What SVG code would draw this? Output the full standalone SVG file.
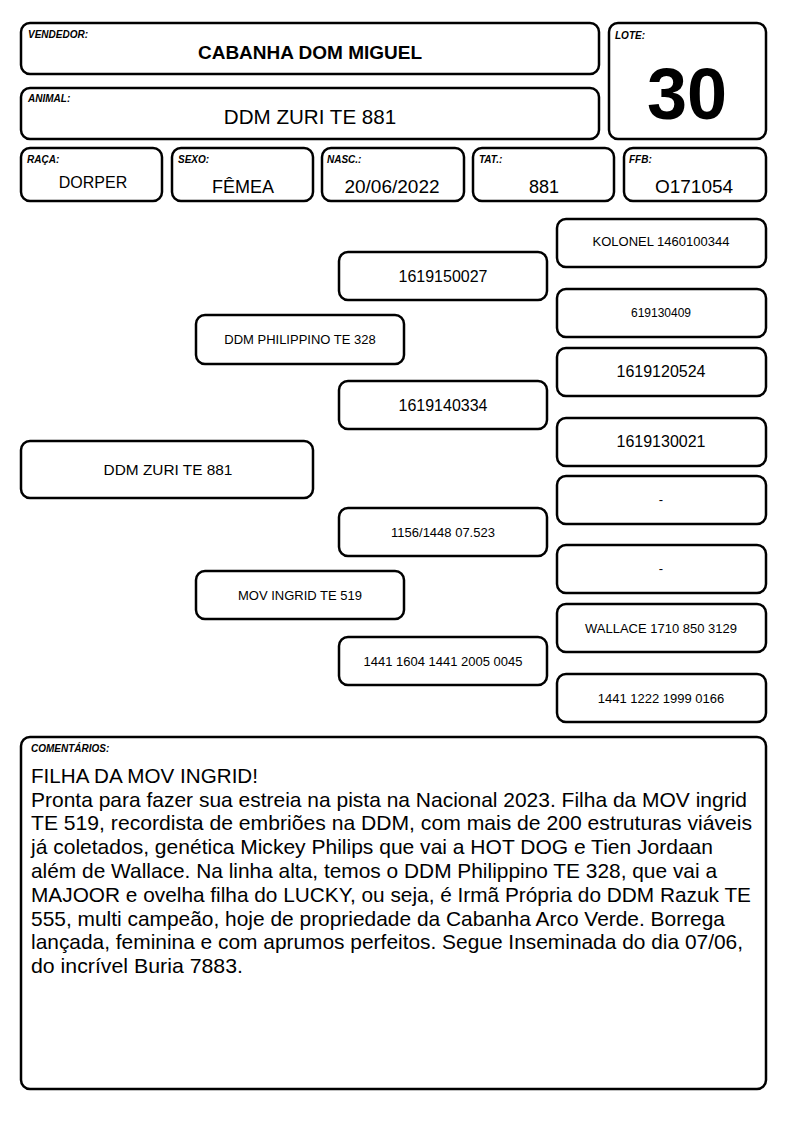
<svg xmlns="http://www.w3.org/2000/svg" width="794" height="1123" viewBox="0 0 794 1123">
<style>
.box{fill:#fff;stroke:#000;stroke-width:2.5}
.lbl{font-family:"Liberation Sans",Arial,sans-serif;font-size:10px;font-weight:bold;font-style:italic;fill:#000}
.t{font-family:"Liberation Sans",Arial,sans-serif;fill:#000;text-anchor:middle}
.c{font-family:"Liberation Sans",Arial,sans-serif;fill:#000;font-size:21px}
</style>
<rect width="794" height="1123" fill="#fff"/>
<g id="vendedor"><rect class="box" x="21" y="23" width="578" height="51" rx="9"/><text class="lbl" x="28" y="38">VENDEDOR:</text><text class="t" x="310" y="59" font-size="19" font-weight="bold">CABANHA DOM MIGUEL</text></g>
<g id="animal"><rect class="box" x="21" y="88" width="578" height="51" rx="9"/><text class="lbl" x="28" y="102">ANIMAL:</text><text class="t" x="310" y="124" font-size="20.6">DDM ZURI TE 881</text></g>
<g id="lote"><rect class="box" x="609" y="23" width="157" height="116" rx="9"/><text class="lbl" x="615" y="39">LOTE:</text><text class="t" x="687" y="119" font-size="72" font-weight="bold">30</text></g>
<g id="raca"><rect class="box" x="21" y="148" width="141" height="53" rx="9"/><text class="lbl" x="27" y="163">RAÇA:</text><text class="t" x="93" y="188" font-size="16">DORPER</text></g>
<g id="sexo"><rect class="box" x="172" y="148" width="141" height="53" rx="9"/><text class="lbl" x="178" y="163">SEXO:</text><text class="t" x="243" y="193" font-size="18">FÊMEA</text></g>
<g id="nasc"><rect class="box" x="322" y="148" width="142" height="53" rx="9"/><text class="lbl" x="327" y="163">NASC.:</text><text class="t" x="392" y="193" font-size="19">20/06/2022</text></g>
<g id="tat"><rect class="box" x="473" y="148" width="141" height="53" rx="9"/><text class="lbl" x="479" y="163">TAT.:</text><text class="t" x="544" y="193" font-size="18">881</text></g>
<g id="ffb"><rect class="box" x="624" y="148" width="142" height="53" rx="9"/><text class="lbl" x="629" y="163">FFB:</text><text class="t" x="694" y="193" font-size="19">O171054</text></g>
<g id="connectors"></g>
<g id="p0"><rect class="box" x="21" y="441" width="292" height="57" rx="9"/><text class="t" x="168" y="475" font-size="15.4">DDM ZURI TE 881</text></g>
<g id="p1"><rect class="box" x="196" y="315" width="208" height="49" rx="9"/><text class="t" x="300" y="344" font-size="13">DDM PHILIPPINO TE 328</text></g>
<g id="p2"><rect class="box" x="196" y="571" width="208" height="48" rx="9"/><text class="t" x="300" y="600" font-size="13">MOV INGRID TE 519</text></g>
<g id="p3"><rect class="box" x="339" y="252" width="208" height="48" rx="9"/><text class="t" x="443" y="282" font-size="16">1619150027</text></g>
<g id="p4"><rect class="box" x="339" y="381" width="208" height="48" rx="9"/><text class="t" x="443" y="411" font-size="16">1619140334</text></g>
<g id="p5"><rect class="box" x="339" y="508" width="208" height="48" rx="9"/><text class="t" x="443" y="537" font-size="13">1156/1448 07.523</text></g>
<g id="p6"><rect class="box" x="339" y="637" width="208" height="48" rx="9"/><text class="t" x="443" y="666" font-size="13">1441 1604 1441 2005 0045</text></g>
<g id="p7"><rect class="box" x="557" y="219" width="209" height="48" rx="9"/><text class="t" x="661" y="246" font-size="13">KOLONEL 1460100344</text></g>
<g id="p8"><rect class="box" x="557" y="289" width="209" height="48" rx="9"/><text class="t" x="661" y="317" font-size="12">619130409</text></g>
<g id="p9"><rect class="box" x="557" y="348" width="209" height="48" rx="9"/><text class="t" x="661" y="377" font-size="16">1619120524</text></g>
<g id="p10"><rect class="box" x="557" y="418" width="209" height="48" rx="9"/><text class="t" x="661" y="447" font-size="16">1619130021</text></g>
<g id="p11"><rect class="box" x="557" y="476" width="209" height="48" rx="9"/><text class="t" x="661" y="504" font-size="13">-</text></g>
<g id="p12"><rect class="box" x="557" y="545" width="209" height="48" rx="9"/><text class="t" x="661" y="573" font-size="13">-</text></g>
<g id="p13"><rect class="box" x="557" y="604" width="209" height="48" rx="9"/><text class="t" x="661" y="633" font-size="13">WALLACE 1710 850 3129</text></g>
<g id="p14"><rect class="box" x="557" y="674" width="209" height="48" rx="9"/><text class="t" x="661" y="703" font-size="13">1441 1222 1999 0166</text></g>
<g id="comentarios"><rect class="box" x="21" y="737" width="745" height="352" rx="9"/><text class="lbl" x="31" y="752">COMENTÁRIOS:</text>
<text class="c" x="31" y="782.7" textLength="227" lengthAdjust="spacingAndGlyphs">FILHA DA MOV INGRID!</text>
<text class="c" x="31" y="806.5" textLength="716" lengthAdjust="spacingAndGlyphs">Pronta para fazer sua estreia na pista na Nacional 2023. Filha da MOV ingrid</text>
<text class="c" x="31" y="830.3" textLength="721" lengthAdjust="spacingAndGlyphs">TE 519, recordista de embriões na DDM, com mais de 200 estruturas viáveis</text>
<text class="c" x="31" y="854.1" textLength="682" lengthAdjust="spacingAndGlyphs">já coletados, genética Mickey Philips que vai a HOT DOG e Tien Jordaan</text>
<text class="c" x="31" y="877.9" textLength="686" lengthAdjust="spacingAndGlyphs">além de Wallace. Na linha alta, temos o DDM Philippino TE 328, que vai a</text>
<text class="c" x="31" y="901.7" textLength="720" lengthAdjust="spacingAndGlyphs">MAJOOR e ovelha filha do LUCKY, ou seja, é Irmã Própria do DDM Razuk TE</text>
<text class="c" x="31" y="925.5" textLength="694" lengthAdjust="spacingAndGlyphs">555, multi campeão, hoje de propriedade da Cabanha Arco Verde. Borrega</text>
<text class="c" x="31" y="949.3" textLength="712" lengthAdjust="spacingAndGlyphs">lançada, feminina e com aprumos perfeitos. Segue Inseminada do dia 07/06,</text>
<text class="c" x="31" y="973.1" textLength="212" lengthAdjust="spacingAndGlyphs">do incrível Buria 7883.</text></g>
</svg>
